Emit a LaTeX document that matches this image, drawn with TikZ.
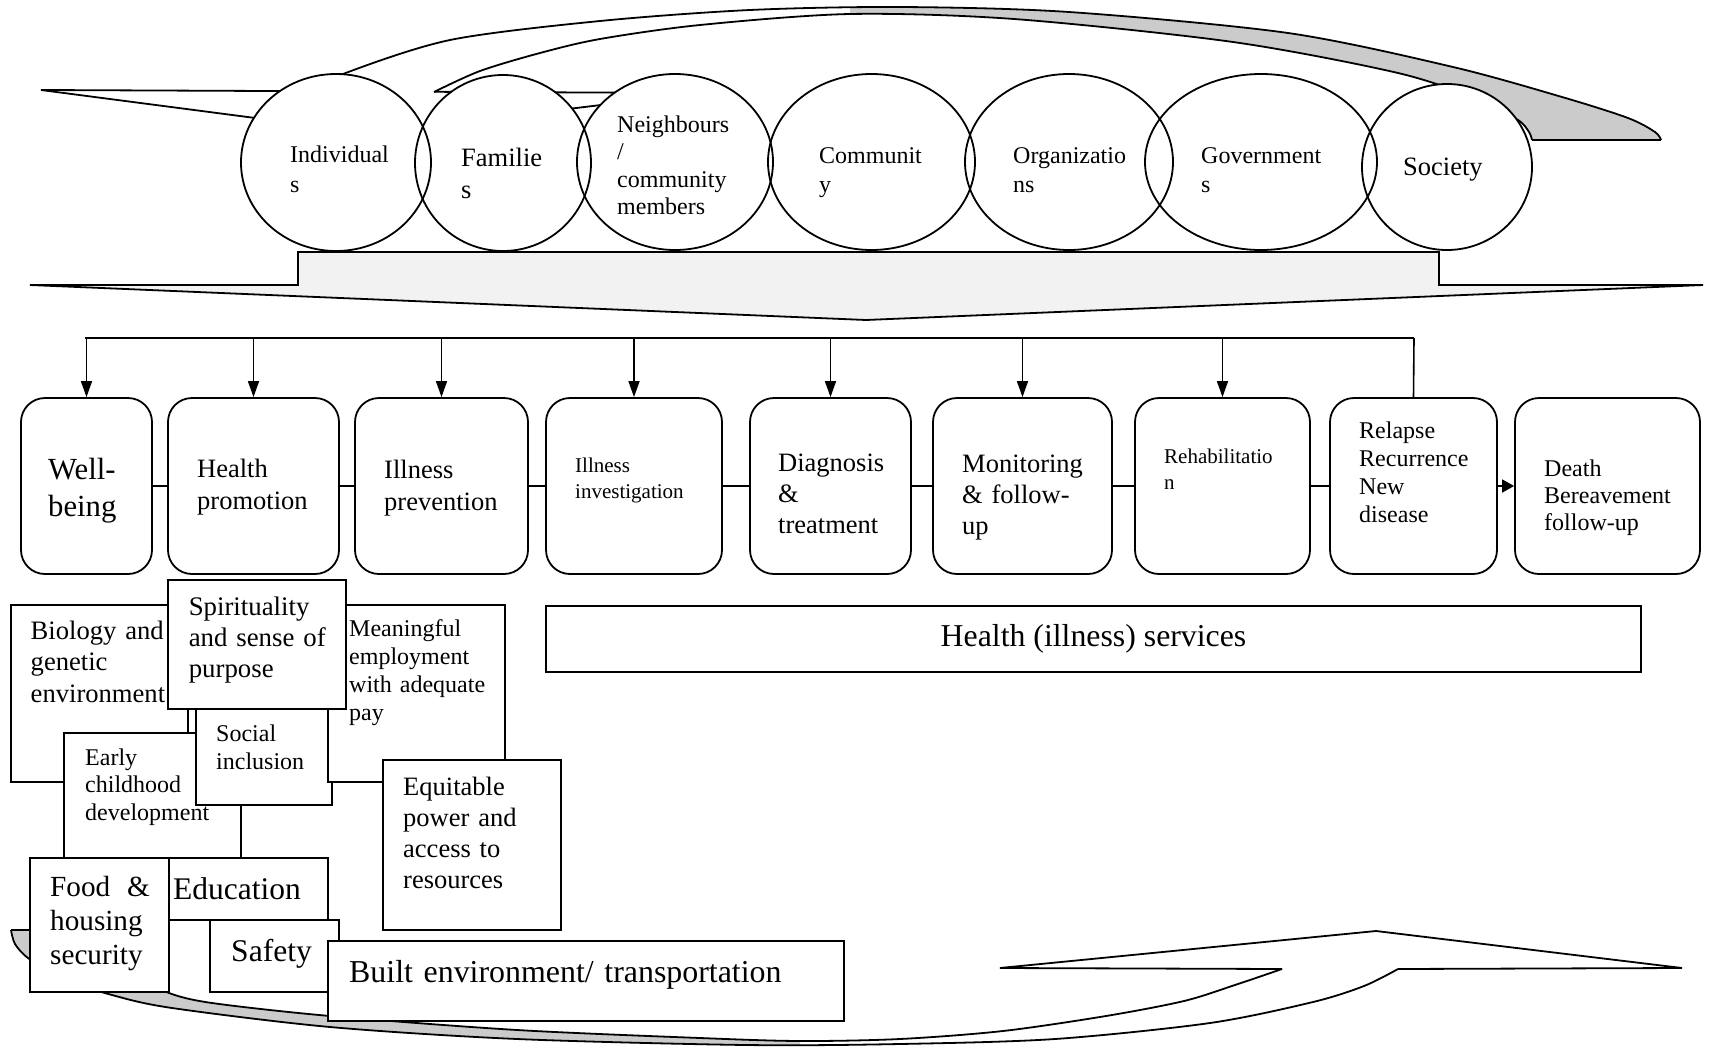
\documentclass[tikz,border=0pt]{standalone}
\usepackage{fontspec}
\setmainfont{Liberation Serif}
\usetikzlibrary{arrows.meta,shapes.geometric}
\definecolor{bandgray}{HTML}{CBCBCB}
\definecolor{arrowfill}{HTML}{F2F2F2}
\newcommand{\setfs}[2]{\fontsize{#1pt}{#2pt}\selectfont}
\begin{document}
\begin{tikzpicture}[x=1pt,y=-1pt,
  lw/.style={line width=1.8pt},
  ell/.style={ellipse, draw, line width=1.8pt, inner sep=0pt},
  rbox/.style={draw, fill=white, line width=1.8pt, rounded corners=24pt, inner sep=0pt, minimum height=176pt},
  sbox/.style={draw, fill=white, line width=1.8pt, inner sep=0pt},
  lbl/.style={anchor=base west, inner sep=0pt, text width=800pt, align=left},
  arr/.style={line width=1.6pt, -{Triangle[length=16pt,width=11pt]}},
]
\useasboundingbox (0,0) rectangle (1709,1047);

% ---------- top curved arrow ----------
\begin{scope}
\clip (850,0) rectangle (1709,200);
\fill[bandgray] plot[smooth] coordinates {(315,91) (343,74) (450,40) (600,21) (750,10) (900,7) (1069,12) (1288,33) (1453,67) (1562,97) (1628,118) (1655,132) (1661,140)}
  -- plot[smooth] coordinates {(1532,140) (1529,132) (1518,120) (1480,100) (1398,73) (1233,42) (1014,19) (850,14) (700,25) (600,39) (540,53) (480,71) (434,92)} -- cycle;
\end{scope}
\draw[lw] plot[smooth] coordinates {(315,91) (343,74) (450,40) (600,21) (750,10) (900,7) (1069,12) (1288,33) (1453,67) (1562,97) (1628,118) (1655,132) (1661,140)};
\draw[lw] plot[smooth] coordinates {(434,92) (480,71) (540,53) (600,39) (700,25) (850,14) (1014,19) (1233,42) (1398,73) (1480,100) (1518,120) (1529,132) (1532,140)};
\draw[lw] (1532,140) -- (1661,140);
\draw[lw, line join=miter] (315,91.2) -- (41,90) -- (370,133) -- (700,93) -- (434,91.8);

% ---------- ellipses ----------
\foreach \cx/\cy/\rx/\ry in {336/162.5/95/88.5, 503/163/88/88, 675/162/98/88, 871.5/162/103.5/88, 1069/162/104/88, 1261/162/116/88, 1447/167/85/83}
  \fill[white] (\cx,\cy) ellipse [x radius=\rx pt, y radius=\ry pt];
\node[ell, minimum width=190pt, minimum height=177pt] (ind) at (336,162.5) {};
\node[ell, minimum width=176pt, minimum height=176pt] (fam) at (503,163) {};
\node[ell, minimum width=196pt, minimum height=176pt] (nei) at (675,162) {};
\node[ell, minimum width=207pt, minimum height=176pt] (com) at (871.5,162) {};
\node[ell, minimum width=208pt, minimum height=176pt] (org) at (1069,162) {};
\node[ell, minimum width=232pt, minimum height=176pt] (gov) at (1261,162) {};
\node[ell, minimum width=170pt, minimum height=166pt] (soc) at (1447,167) {};

\node[lbl, font=\setfs{24}{30.5}] (tind) at (290,162) {Individual\\s};
\node[lbl, font=\setfs{26.5}{32.7}] (tfam) at (461,166) {Familie\\s};
\node[lbl, font=\setfs{24}{27.6}] (tnei) at (617,132) {Neighbours\\/\\community\\members};
\node[lbl, font=\setfs{24}{29.4}] (tcom) at (819,163) {Communit\\y};
\node[lbl, font=\setfs{24}{29.4}] (torg) at (1013,163) {Organizatio\\ns};
\node[lbl, font=\setfs{24}{29.4}] (tgov) at (1201,163) {Government\\s};
\node[lbl, font=\setfs{26.5}{32}] (tsoc) at (1403,175) {Society};

% ---------- wide down arrow ----------
\draw[lw, fill=arrowfill, line join=miter] (298,252) -- (1439,252) -- (1439,285) -- (1703,285) -- (866,320) -- (30,285) -- (298,285) -- cycle;

% ---------- process boxes ----------
\node[rbox, minimum width=131pt] (wb) at (86.5,486) {};
\node[rbox, minimum width=171pt] (hp) at (253.5,486) {};
\node[rbox, minimum width=173pt] (ip) at (441.5,486) {};
\node[rbox, minimum width=176pt] (ii) at (634,486) {};
\node[rbox, minimum width=161pt] (dt) at (830.5,486) {};
\node[rbox, minimum width=179pt] (mf) at (1022.5,486) {};
\node[rbox, minimum width=175pt] (rh) at (1222.5,486) {};
\node[rbox, minimum width=167pt] (rl) at (1413.5,486) {};
\node[rbox, minimum width=185pt] (de) at (1607.5,486) {};

\node[lbl, font=\setfs{30.7}{37}] (twb) at (48,479) {Well-\\being};
\node[lbl, font=\setfs{26.5}{32.7}] (thp) at (197,477) {Health\\promotion};
\node[lbl, font=\setfs{26.5}{32}] (tip) at (384,478) {Illness\\prevention};
\node[lbl, font=\setfs{21}{26.2}] (tii) at (575,472) {Illness\\investigation};
\node[lbl, font=\setfs{26.5}{31}] (tdt) at (778,471) {Diagnosis\\\&\\treatment};
\node[lbl, font=\setfs{26.5}{31}] (tmf) at (962,472) {Monitoring\\\& follow-\\up};
\node[lbl, font=\setfs{21}{26.2}] (trh) at (1164,463) {Rehabilitatio\\n};
\node[lbl, font=\setfs{24}{28}] (trl) at (1359,438) {Relapse\\Recurrence\\New\\disease};
\node[lbl, font=\setfs{24}{27.3}] (tde) at (1544,476) {Death\\Bereavement\\follow-up};

% ---------- distribution bus ----------
\coordinate (busL) at (85,338);
\coordinate (busR) at (1414,338);
\draw[line width=2pt] (busL) -- (busR);
\foreach \b in {wb,hp,ip,ii,dt,mf,rh}
  \draw[arr] (\b.north |- busL) -- (\b.north);
\draw[line width=1.6pt] (busR) -- (rl.north);

\draw[lw] (wb.east) -- (hp.west);
\draw[lw] (hp.east) -- (ip.west);
\draw[lw] (ip.east) -- (ii.west);
\draw[lw] (ii.east) -- (dt.west);
\draw[lw] (dt.east) -- (mf.west);
\draw[lw] (mf.east) -- (rh.west);
\draw[lw] (rh.east) -- (rl.west);
\draw[line width=1.6pt, -{Triangle[length=12pt,width=13pt]}] (rl.east) -- (de.west);

% ---------- health services ----------
\node[sbox, minimum width=1095pt, minimum height=66pt] (hs) at (1093.5,639) {};
\node[anchor=base, inner sep=0pt, font=\setfs{31.8}{38}] (ths) at (1093.5,646) {Health (illness) services};

% ---------- bottom curved arrow ----------
\begin{scope}
\clip (0,900) rectangle (800,1047);
\fill[bandgray] plot[smooth] coordinates {(11,930) (15,944) (28,958) (60,978) (112,995) (172,1008) (330,1027) (517,1039) (746,1045) (900,1044) (1055,1039) (1210,1023) (1313,1002) (1364,986) (1398,969)}
  -- plot[smooth] coordinates {(1282,969) (1235,985) (1184,1001) (1106,1016) (1003,1031) (900,1039) (800,1041) (700,1038) (517,1030) (330,1016) (212,1003) (169,993) (140,977) (115,955) (90,930)} -- cycle;
\end{scope}
\draw[lw] plot[smooth] coordinates {(11,930) (15,944) (28,958) (60,978) (112,995) (172,1008) (330,1027) (517,1039) (746,1045) (900,1044) (1055,1039) (1210,1023) (1313,1002) (1364,986) (1398,969)};
\draw[lw] plot[smooth] coordinates {(90,930) (115,955) (140,977) (169,993) (212,1003) (330,1016) (517,1030) (700,1038) (800,1041) (900,1039) (1003,1031) (1106,1016) (1184,1001) (1235,985) (1282,969)};
\draw[lw] (11,930) -- (90,930);
\draw[lw, line join=miter] (1282,969) -- (1000,968) -- (1376,931) -- (1682,968) -- (1398,969);

% ---------- determinants ----------
\node[sbox, minimum width=177pt, minimum height=177pt] (bio) at (99.5,693.5) {};
\node[lbl, font=\setfs{26.6}{31.6}] (tbio) at (30.5,639) {Biology and\\genetic\\environment};
\node[sbox, minimum width=177pt, minimum height=125pt] (ecd) at (152.5,795.5) {};
\node[sbox, minimum width=136pt, minimum height=97pt] (sin) at (264,756.5) {};
\node[lbl, font=\setfs{24}{27.6}] (tecd) at (85,765) {Early\\childhood\\development};
\node[lbl, font=\setfs{24}{28.3}] (tsin) at (216,741) {Social\\inclusion};
\node[sbox, minimum width=177pt, minimum height=177pt] (mea) at (416.5,693.5) {};
\node[lbl, font=\setfs{24}{28.3}] (tmea) at (349,636) {Meaningful\\employment\\with adequate\\pay};
\node[sbox, minimum width=178pt, minimum height=129pt] (spi) at (257,644.5) {};
\node[lbl, font=\setfs{26.8}{31}] (tspi) at (188.6,615) {Spirituality\\and sense of\\purpose};
\node[sbox, minimum width=178pt, minimum height=170pt] (equ) at (472,845) {};
\node[lbl, font=\setfs{26.5}{31}] (tequ) at (403,795) {Equitable\\power and\\access to\\resources};
\node[sbox, minimum width=178pt, minimum height=62pt] (edu) at (239,889) {};
\node[lbl, font=\setfs{31.5}{38}] (tedu) at (173,899) {Education};
\node[sbox, minimum width=139pt, minimum height=134pt] (food) at (99.5,925) {};
\node[lbl, font=\setfs{29.2}{34.3}] (tfood) at (50,896) {Food\hspace{17pt}\&\\housing\\security};
\node[sbox, minimum width=129pt, minimum height=72pt] (saf) at (274.5,956) {};
\node[lbl, font=\setfs{31.6}{38}] (tsaf) at (231,961) {Safety};
\node[sbox, minimum width=516pt, minimum height=80pt] (blt) at (586,981) {};
\node[lbl, font=\setfs{31.9}{38}] (tblt) at (349,982) {Built environment/ transportation};
\end{tikzpicture}
\end{document}
